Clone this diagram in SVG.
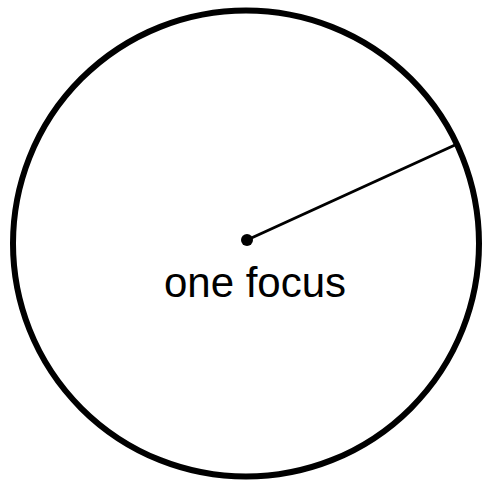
<svg xmlns="http://www.w3.org/2000/svg" width="482" height="481" viewBox="0 0 482 481">
<style>
.ring{fill:none;stroke:#000;stroke-width:6}
.radius{stroke:#000;stroke-width:3;fill:none}
.lbl{font-family:"Liberation Sans",Arial,sans-serif;font-size:42px;fill:#000}
</style>
<rect width="482" height="481" fill="#fff"/>
<g id="circle"><circle class="ring" cx="246" cy="243.5" r="233"/></g>
<g id="connectors"><line class="radius" x1="247" y1="240" x2="455" y2="145"/></g>
<g id="focus"><circle cx="247" cy="240" r="6" fill="#000"/><text class="lbl" x="255" y="297" text-anchor="middle">one focus</text></g>
</svg>
